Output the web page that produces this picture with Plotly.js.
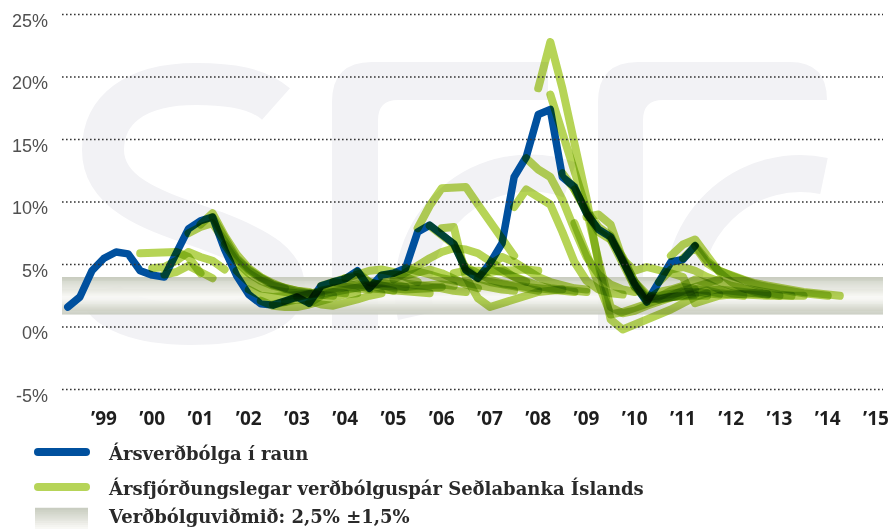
<!DOCTYPE html>
<html>
<head>
<meta charset="utf-8">
<script src="https://cdn.plot.ly/plotly-3.0.1.min.js"></script>
<style>
  html, body { margin: 0; padding: 0; background: #ffffff; }
  #chart { width: 891px; height: 529px; }
</style>
</head>
<body>
<div id="chart"></div>
<script>
// ---- Data -------------------------------------------------------------
// Actual 12-month inflation, quarterly, starting 1998Q4 (%)
const actualStart = '1998Q4';
const actualInflation = [1.6, 2.4, 4.5, 5.5, 6.0, 5.85, 4.5, 4.15, 4.0, 5.9, 7.85, 8.5, 8.8, 6.2, 4.1, 2.6,
  1.85, 1.75, 2.0, 2.4, 1.9, 3.3, 3.6, 3.85, 4.5, 3.1, 4.15, 4.3, 4.7, 7.6, 8.15, 7.3, 6.65, 4.55, 3.9,
  5.1, 6.7, 12.0, 13.6, 17.0, 17.4, 12.0, 11.2, 9.1, 7.8, 7.2, 5.3, 3.4, 2.0, 3.5, 5.2, 5.4, 6.5];

// Quarterly inflation forecasts of the Central Bank: first forecast quarter of each
const forecastStarts = ['2000Q2', '2000Q3', '2000Q4', '2001Q2', '2001Q3', '2001Q4', '2002Q1', '2002Q2',
  '2002Q3', '2002Q4', '2003Q1', '2003Q2', '2003Q3', '2003Q4', '2004Q1', '2004Q2', '2004Q3', '2004Q4',
  '2005Q1', '2005Q2', '2005Q3', '2005Q4', '2006Q1', '2006Q2', '2006Q3', '2006Q4', '2007Q1', '2007Q2',
  '2007Q3', '2008Q1', '2008Q2', '2008Q3', '2008Q4', '2009Q1', '2009Q2', '2009Q2', '2009Q3', '2010Q1',
  '2010Q2', '2010Q3', '2010Q4', '2011Q1', '2011Q2', '2011Q3', '2011Q4'];

// ...and the forecast path (%) from that quarter on
const forecastPaths = [
  [5.9, 5.9, 6.0, 6.0, 5.6, 4.3],
  [4.7, 4.8, 5.3, 6.0, 5.6, 5.3, 4.6],
  [4.2, 4.4, 4.9, 4.4, 3.9],
  [7.5, 8.0, 8.3, 6.8, 5.4, 4.5, 3.9, 3.4, 3.1],
  [8.2, 9.1, 7.3, 5.8, 4.7, 4.0, 3.5, 3.1, 2.9, 2.8],
  [8.8, 7.0, 5.5, 4.6, 3.9, 3.4, 3.1, 2.9, 2.7],
  [6.6, 5.2, 4.3, 3.7, 3.3, 3.0, 2.8, 2.7, 2.6],
  [4.5, 3.6, 3.1, 2.9, 2.8, 2.7, 2.6, 2.6, 2.5],
  [3.0, 2.5, 2.4, 2.5, 2.6, 2.7, 2.8, 2.8, 2.7],
  [2.1, 1.7, 1.6, 1.6, 1.8, 2.1, 2.4, 2.6, 2.7],
  [1.8, 2.0, 2.4, 2.7, 2.9, 3.1, 3.2, 3.1, 3.0],
  [2.0, 2.2, 2.1, 1.8, 1.7, 1.9, 2.2, 2.5, 2.7],
  [2.4, 2.6, 2.9, 3.1, 3.3, 3.4, 3.3, 3.1, 2.9],
  [1.9, 2.5, 2.8, 3.0, 3.2, 3.3, 3.5, 3.4, 3.2],
  [3.3, 3.6, 4.0, 4.3, 4.5, 4.6, 4.4, 4.0, 3.6],
  [3.6, 3.5, 3.3, 3.1, 3.0, 2.9, 2.9, 2.8, 2.7],
  [3.9, 4.0, 3.6, 3.3, 3.1, 3.0, 3.0, 3.1, 3.2],
  [4.4, 3.6, 3.3, 3.2, 3.2, 3.3, 3.4, 3.4, 3.3],
  [3.2, 3.5, 3.6, 3.5, 3.4, 3.3, 3.1, 2.9, 2.8],
  [4.1, 4.2, 4.1, 4.4, 4.6, 4.3, 3.8, 3.4, 3.1],
  [3.8, 4.3, 4.9, 5.5, 6.0, 6.3, 6.2, 5.9, 5.3, 4.6, 4.0, 3.6],
  [4.7, 4.5, 4.2, 3.9, 3.7, 3.5, 3.4, 3.2, 3.0, 2.9],
  [7.9, 9.7, 11.1, 11.1, 11.2, 9.8, 8.4, 7.0, 5.7],
  [8.1, 7.3, 6.6, 4.7, 3.9, 3.6, 3.4, 3.2, 3.0, 2.9],
  [7.9, 8.0, 4.0, 2.3, 1.6, 1.9, 2.3, 2.6, 2.8, 2.9, 3.0],
  [4.3, 4.5, 4.5, 4.4, 4.5, 4.6, 4.6, 4.5],
  [4.8, 4.3, 3.8, 3.5, 3.3, 3.2, 3.1, 3.0, 2.9, 2.8],
  [3.9, 4.6, 4.4, 4.0, 3.6, 3.3, 3.1, 3.0, 2.9, 2.8],
  [5.0, 5.6, 5.2, 4.6, 4.0, 3.6, 3.3, 3.1, 3.0],
  [9.6, 11.0, 10.4, 9.8, 7.6, 5.2, 3.7, 3.0, 2.7, 2.6],
  [13.5, 12.6, 12.0, 10.2, 7.8, 5.6, 4.2, 3.4, 3.0, 2.8],
  [19.1, 22.8, 19.1, 14.8, 10.3, 5.0, 0.6, -0.2, 0.2, 0.5, 1.0, 1.4, 1.9, 2.4, 2.7],
  [18.6, 15.5, 12.4, 9.4, 5.3, 1.6, 1.1, 1.3, 1.7, 2.0, 2.4, 2.7, 3.0],
  [12.3, 11.0, 9.2, 7.6, 7.0, 5.0, 3.2, 2.2, 2.3, 2.5, 2.6, 2.6],
  [8.3, 6.0, 3.6, 1.0, 1.2, 1.5, 1.8, 2.1, 2.5, 2.9, 3.2, 3.5, 3.8],
  [11.0, 9.3, 8.0, 7.3, 5.4, 3.6, 2.4, 2.2, 2.4, 2.5, 2.5, 2.5],
  [8.8, 9.0, 8.2, 5.4, 3.2, 2.4, 2.5, 2.7, 2.8, 2.8, 2.7, 2.6],
  [7.0, 5.6, 3.6, 2.1, 2.4, 2.9, 3.2, 3.1, 2.9, 2.7, 2.6, 2.5],
  [5.4, 4.5, 4.8, 4.6, 4.3, 4.0, 1.9, 2.2, 2.5, 2.6, 2.7, 2.7, 2.6],
  [3.6, 2.6, 2.2, 2.4, 2.6, 2.8, 2.9, 3.0, 2.9, 2.8, 2.7, 2.6],
  [2.2, 2.8, 3.0, 3.3, 3.8, 3.5, 3.0, 2.7, 2.6, 2.5, 2.5, 2.5],
  [3.6, 4.6, 4.8, 4.5, 4.0, 3.6, 3.3, 3.1, 2.9, 2.7, 2.6, 2.5],
  [5.7, 6.6, 7.0, 5.6, 4.4, 3.6, 3.1, 2.8, 2.6, 2.5, 2.5, 2.5],
  [5.5, 6.4, 5.1, 4.5, 4.1, 3.7, 3.4, 3.2, 3.0, 2.8, 2.7, 2.6, 2.5],
  [6.5, 5.3, 4.5, 4.1, 3.8, 3.5, 3.3, 3.1, 2.9, 2.8, 2.7, 2.6, 2.5]
];

// Inflation target 2.5% with a ±1.5% tolerance band
const targetCentre = 2.5;
const targetTolerance = 1.5;

// Axis labels
const yearLabels = [1999, 2000, 2001, 2002, 2003, 2004, 2005, 2006, 2007, 2008, 2009, 2010, 2011, 2012, 2013, 2014, 2015];
const yearText = ['’99', '’00', '’01', '’02', '’03', '’04', '’05', '’06', '’07', '’08', '’09', '’10', '’11', '’12', '’13', '’14', '’15'];
const yTickValues = [-5, 0, 5, 10, 15, 20, 25];
const yTickText = ['-5%', '0%', '5%', '10%', '15%', '20%', '25%'];

const legendLabels = ['Ársverðbólga í raun', 'Ársfjórðungslegar verðbólguspár Seðlabanka Íslands', 'Verðbólguviðmið: 2,5% ±1,5%'];

// ---- Helpers ----------------------------------------------------------
function quarterToX(q) {
  const year = parseInt(q.slice(0, 4), 10);
  const qn = parseInt(q.slice(5), 10);
  return year + (qn - 1) / 4;
}
function quarterAxis(start, n) {
  const x0 = quarterToX(start);
  const xs = [];
  for (let i = 0; i < n; i++) xs.push(x0 + i / 4);
  return xs;
}

// Figure geometry (pixels)
const W = 891, H = 529;
const M = { l: 62, r: 8, t: 8, b: 133 };
const plotW = W - M.l - M.r, plotH = H - M.t - M.b;
const px2x = px => (px - M.l) / plotW;
const px2y = py => (H - M.b - py) / plotH;

const blue = '#00509e';
const green = 'rgb(164,201,43)';
const greenSolid = '#b6d458';

// ---- Traces -----------------------------------------------------------
const traces = [{
  type: 'scatter', mode: 'lines',
  x: quarterAxis(actualStart, actualInflation.length), y: actualInflation,
  line: { color: blue, width: 7.5 }, hoverinfo: 'skip', cliponaxis: false
}];
forecastPaths.forEach((path, i) => {
  traces.push({
    type: 'scatter', mode: 'lines',
    x: quarterAxis(forecastStarts[i], path.length), y: path,
    line: { color: green, width: 8 }, opacity: 0.8,
    hoverinfo: 'skip', cliponaxis: false
  });
});

// ---- Shapes -----------------------------------------------------------
// Soft cylinder-like shading for the tolerance band
const bandStops = [
  [0.00, [199, 203, 190]], [0.15, [213, 216, 205]], [0.35, [231, 232, 225]],
  [0.52, [248, 248, 245]], [0.60, [245, 245, 241]], [0.76, [225, 227, 219]],
  [0.90, [208, 211, 199]], [1.00, [197, 201, 189]]
];
function bandColour(t) {
  for (let i = 1; i < bandStops.length; i++) {
    if (t <= bandStops[i][0]) {
      const [t0, c0] = bandStops[i - 1], [t1, c1] = bandStops[i];
      const f = (t - t0) / (t1 - t0);
      return 'rgb(' + c0.map((c, k) => Math.round(c + (c1[k] - c) * f)).join(',') + ')';
    }
  }
  return 'rgb(197,201,189)';
}

const shapes = [];
const strips = 40;
const bandTop = targetCentre + targetTolerance, bandBottom = targetCentre - targetTolerance;
for (let i = 0; i < strips; i++) {
  const a = bandTop - (bandTop - bandBottom) * i / strips;
  const b = bandTop - (bandTop - bandBottom) * (i + 1) / strips;
  shapes.push({
    type: 'rect', layer: 'below', xref: 'paper', yref: 'y',
    x0: 0, x1: 1, y0: a + (i ? 0.01 : 0), y1: b - (i < strips - 1 ? 0.01 : 0),
    fillcolor: bandColour((i + 0.5) / strips), line: { width: 0 }
  });
}

// Dotted gridlines
yTickValues.forEach(v => {
  shapes.push({
    type: 'line', layer: 'above', xref: 'paper', yref: 'y',
    x0: 0, x1: 1, y0: v, y1: v,
    line: { color: '#333333', width: 1.6, dash: '1.6px,2.4px' }
  });
});

// Legend swatches
const legendSwatchIdx = [];
legendSwatchIdx.push(shapes.length);
shapes.push({ type: 'line', layer: 'above', xref: 'paper', yref: 'paper',
  x0: px2x(38), x1: px2x(86), y0: px2y(452), y1: px2y(452),
  line: { color: blue, width: 8 } });
legendSwatchIdx.push(shapes.length);
shapes.push({ type: 'line', layer: 'above', xref: 'paper', yref: 'paper',
  x0: px2x(38), x1: px2x(86), y0: px2y(487), y1: px2y(487),
  line: { color: greenSolid, width: 8 } });
const swTop = 508, swH = 39;
for (let i = 0; i < 20; i++) {
  shapes.push({
    type: 'rect', layer: 'above', xref: 'paper', yref: 'paper',
    x0: px2x(35), x1: px2x(88),
    y0: px2y(swTop + swH * i / 20) + 0.0005, y1: px2y(swTop + swH * (i + 1) / 20) - 0.0005,
    fillcolor: bandColour((i + 0.5) / 20), line: { width: 0 }
  });
}

// ---- Text: y tick labels (sitting just under their gridline) and legend --
const annotations = yTickValues.map((v, i) => ({
  text: yTickText[i], showarrow: false, xref: 'paper', yref: 'y',
  x: 0, y: v, xanchor: 'right', yanchor: 'middle', xshift: -12, yshift: -6,
  font: { family: 'Liberation Sans', size: 18, color: '#505050' }
}));
const legendFont = { family: 'DejaVu Serif', size: 18, color: '#2a2a2a', weight: 700 };
const legendRows = [453, 488, 516];
legendLabels.forEach((t, i) => annotations.push({
  text: t, showarrow: false, xref: 'paper', yref: 'paper',
  x: px2x(106), y: px2y(legendRows[i]), xanchor: 'left', yanchor: 'middle',
  font: legendFont
}));

// ---- Background logo watermark ----------------------------------------
const wmColour = '#f2f2f5';
const watermark =
  '<svg xmlns="http://www.w3.org/2000/svg" width="891" height="529" viewBox="0 0 891 529">' +
  '<g fill="none" stroke="' + wmColour + '" stroke-width="42">' +
  '<path d="M276 104 C258 88 230 84 196 84 C135 84 103 110 103 150 C103 200 170 215 215 232 C262 250 284 265 284 288 C284 312 245 324 190 324 C140 324 104 310 100 290"/>' +
  '<path d="M416 316 A117 117 0 0 1 570 180" stroke-width="37"/>' +
  '<path d="M685 310 A117 117 0 0 1 824 176" stroke-width="37"/>' +
  '</g><g fill="' + wmColour + '">' +
  '<path d="M332 330 L332 102 Q332 62 372 62 L548 62 L548 100 L398 100 Q378 100 378 120 L378 330 Z"/>' +
  '<path d="M598 330 L598 102 Q598 62 638 62 L790 62 Q827 62 827 100 L663 100 Q643 100 643 120 L643 330 Z"/>' +
  '</g></svg>';

// ---- Layout -----------------------------------------------------------
const layout = {
  width: W, height: H,
  margin: M,
  paper_bgcolor: '#ffffff',
  plot_bgcolor: 'rgba(0,0,0,0)',
  showlegend: false,
  xaxis: {
    range: [1999.5 - 42 / 48.25, 1999.5 + 779 / 48.25],
    tickvals: yearLabels.map(y => y + 0.5), ticktext: yearText,
    showgrid: false, zeroline: false, showline: false, ticks: '',
    tickfont: { family: 'Open Sans', size: 19, color: '#1e1e1e', weight: 700 },
    ticklabelstandoff: 9, fixedrange: true, automargin: false
  },
  yaxis: {
    range: [-5.52, 25.52],
    showticklabels: false,
    showgrid: false, zeroline: false, showline: false, ticks: '',
    fixedrange: true, automargin: false
  },
  shapes: shapes,
  annotations: annotations,
  images: [{
    source: 'data:image/svg+xml;charset=utf-8,' + encodeURIComponent(watermark),
    xref: 'paper', yref: 'paper',
    x: px2x(0), y: px2y(0), sizex: W / plotW, sizey: H / plotH,
    xanchor: 'left', yanchor: 'top', sizing: 'stretch', layer: 'below'
  }]
};

Plotly.newPlot('chart', traces, layout, { staticPlot: true, displayModeBar: false }).then(() => {
  const root = document.getElementById('chart');
  // let the forecast lines darken each other (multiply), unclipped so blending reaches the band
  root.querySelectorAll('.cartesianlayer [clip-path]').forEach(el => el.removeAttribute('clip-path'));
  root.querySelectorAll('.scatterlayer .trace').forEach((g, i) => {
    if (i > 0) g.style.mixBlendMode = 'multiply';
    g.querySelectorAll('path.js-line').forEach(p => {
      p.style.strokeLinejoin = 'round';
      p.style.strokeLinecap = 'round';
    });
  });
  root.querySelectorAll('.shapelayer path').forEach(p => {
    const idx = parseInt(p.getAttribute('data-index'), 10);
    if (legendSwatchIdx.indexOf(idx) >= 0) p.style.strokeLinecap = 'round';
  });
});
</script>
</body>
</html>
